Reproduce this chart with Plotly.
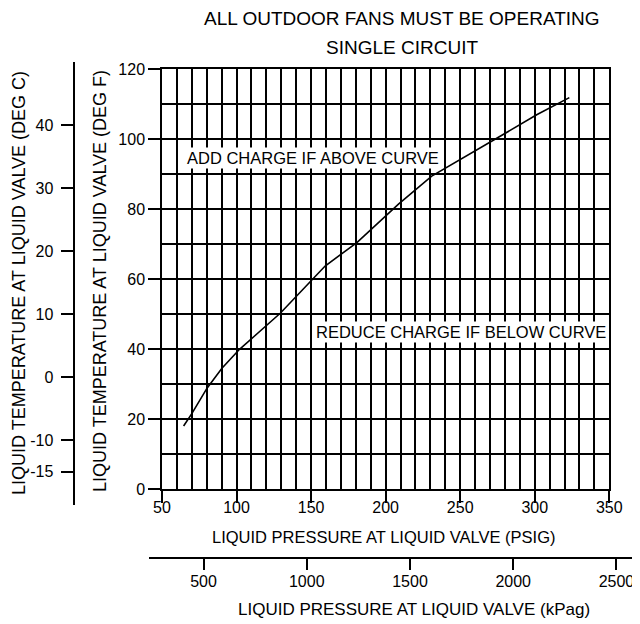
import plotly.graph_objects as go

# Curve data
psig = [64.5, 70.1, 80.2, 90.2, 102, 109.2, 129.3, 150.5, 159.4, 180.7, 200.8, 208.6,
        230.9, 249.9, 274.5, 301.3, 323.2]
temp_f = [18.1, 21.7, 28.9, 34.6, 40, 42.7, 50.3, 59.8, 63.8, 70.5, 78.4, 81.5,
          89.5, 94.1, 100.3, 107, 111.9]

psig_ticks = [50, 100, 150, 200, 250, 300, 350]
f_ticks = [0, 20, 40, 60, 80, 100, 120]
c_ticks = [-15, -10, 0, 10, 20, 30, 40]
c_labels = ["-15", "-10", "0", "10", "20", "30", "40"]
kpa_ticks = [500, 1000, 1500, 2000, 2500]

# the page body adds an 8px margin, so the figure is drawn 8px in from the corner
OFF = 8
W, H = 640 - OFF, 624 - OFF
def px(x):
    return (x - OFF) / W
def py(y):
    return 1 - (y - OFF) / H

FONT = "Liberation Sans, Arial, sans-serif"
BLACK = "black"

fig = go.Figure()
fig.add_trace(go.Scatter(x=psig, y=temp_f, mode="lines",
                         line=dict(color=BLACK, width=1.6),
                         showlegend=False, hoverinfo="skip"))
# carriers for the secondary scales
fig.add_trace(go.Scatter(x=[], y=[], xaxis="x2", yaxis="y3", showlegend=False))
fig.add_trace(go.Scatter(x=[], y=[], xaxis="x3", yaxis="y4", showlegend=False))

common = dict(color=BLACK, linecolor=BLACK, linewidth=1.5, tickcolor=BLACK,
              tickwidth=1.5, tickfont=dict(family=FONT, size=16, color=BLACK),
              zeroline=False, automargin=False)

fig.update_layout(
    width=W, height=H,
    margin=dict(l=0, r=0, t=0, b=0, autoexpand=False),
    paper_bgcolor="white", plot_bgcolor="white",
    font=dict(family=FONT, size=16, color=BLACK),
    showlegend=False,
    xaxis=dict(domain=[px(162), px(609.3)], range=[50, 350], anchor="y",
               tickvals=psig_ticks, ticks="outside", ticklen=12,
               ticklabelstandoff=-9,
               showline=True, mirror=True,
               showgrid=True, gridcolor=BLACK, gridwidth=1.5,
               minor=dict(dtick=10, tick0=50, showgrid=True, gridcolor=BLACK,
                          gridwidth=1.5, ticks=""),
               **common),
    yaxis=dict(domain=[py(489.3), py(69.3)], range=[0, 120], anchor="x",
               tickvals=f_ticks, ticks="outside", ticklen=12,
               showline=True, mirror=True,
               showgrid=True, gridcolor=BLACK, gridwidth=1.5,
               minor=dict(dtick=10, tick0=0, showgrid=True, gridcolor=BLACK,
                          gridwidth=1.5, ticks=""),
               **common),
    xaxis2=dict(domain=[0, 0.05], anchor="y3", visible=False, range=[0, 1]),
    yaxis3=dict(anchor="free", position=px(74.3), side="left",
                domain=[py(505), py(62)], range=[-20.27, 50.05],
                tickvals=c_ticks, ticktext=c_labels, ticks="outside", ticklen=13,
                ticklabelstandoff=4,
                showline=True, showgrid=False, **common),
    xaxis3=dict(anchor="free", position=py(558.3), side="bottom",
                domain=[px(149), 1.0], range=[236, 2614],
                tickvals=kpa_ticks, ticks="outside", ticklen=11,
                ticklabelstandoff=-2,
                showline=True, showgrid=False, **common),
    yaxis4=dict(domain=[0, 0.02], anchor="x3", visible=False, range=[0, 1]),
)

ann = [
    dict(text="ALL OUTDOOR FANS MUST BE OPERATING", x=px(402), y=py(18), size=19),
    dict(text="SINGLE CIRCUIT", x=px(402), y=py(47), size=19),
    dict(text="LIQUID PRESSURE AT LIQUID VALVE (PSIG)", x=px(384), y=py(537), size=16.5),
    dict(text="LIQUID PRESSURE AT LIQUID VALVE (kPag)", x=px(414), y=py(609), size=17),
    dict(text="LIQUID TEMPERATURE AT LIQUID VALVE (DEG C)", x=px(19), y=py(283), size=18, angle=-90),
    dict(text="LIQUID TEMPERATURE AT LIQUID VALVE (DEG F)", x=px(100), y=py(281), size=18, angle=-90),
]
for a in ann:
    fig.add_annotation(text=a["text"], x=a["x"], y=a["y"], xref="paper", yref="paper",
                       showarrow=False, xanchor="center", yanchor="middle",
                       textangle=a.get("angle", 0),
                       font=dict(family=FONT, size=a["size"], color=BLACK))

for t, xv, yv in [("ADD CHARGE IF ABOVE CURVE", px(312.5), py(158)),
                  ("REDUCE CHARGE IF BELOW CURVE", px(460.5), py(331.5))]:
    fig.add_annotation(text=t, x=xv, y=yv, xref="paper", yref="paper",
                       showarrow=False, xanchor="center", yanchor="middle",
                       bgcolor="white", borderpad=1,
                       font=dict(family=FONT, size=16.5, color=BLACK))

fig.write_html("out.html")
